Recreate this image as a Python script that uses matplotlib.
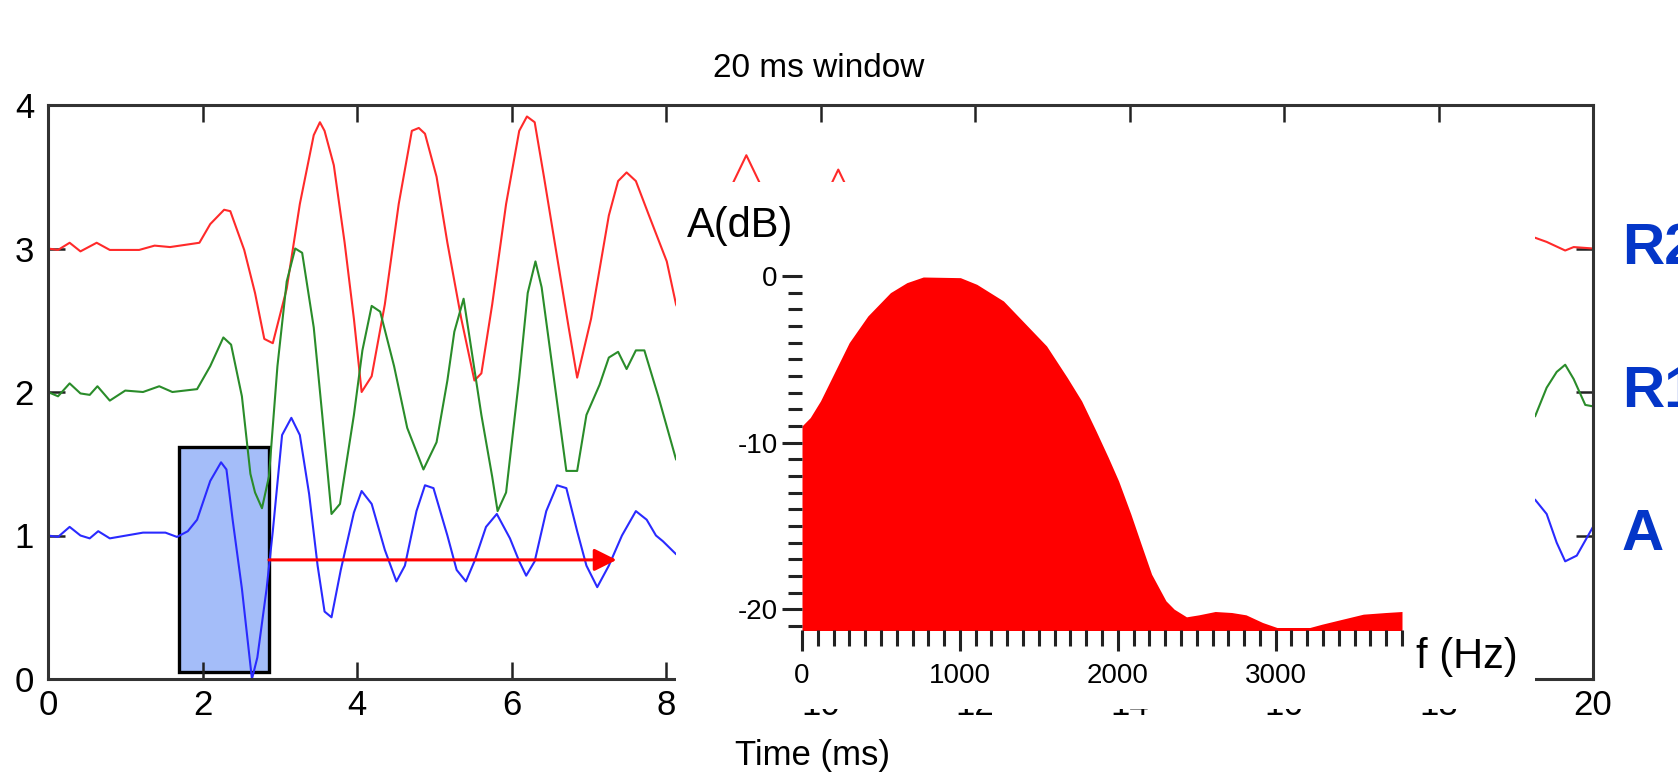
import matplotlib
matplotlib.use("Agg")
import matplotlib.pyplot as plt
from matplotlib.patches import Rectangle
from matplotlib.ticker import MultipleLocator

plt.rcParams['font.family'] = ['Liberation Sans', 'DejaVu Sans']
plt.rcParams['axes.unicode_minus'] = False

# time traces (ms, offset amplitude)
r2_points = [(0, 3.00), (0.13, 2.99), (0.28, 3.04), (0.42, 2.98), (0.63, 3.04), (0.80, 2.99),
             (1.18, 2.99), (1.38, 3.02), (1.58, 3.01), (1.96, 3.04), (2.10, 3.17), (2.28, 3.27),
             (2.36, 3.26), (2.54, 2.99), (2.68, 2.69), (2.80, 2.37), (2.91, 2.34), (3.09, 2.72),
             (3.26, 3.31), (3.44, 3.79), (3.52, 3.88), (3.58, 3.82), (3.70, 3.58), (3.84, 3.04),
             (3.96, 2.51), (4.06, 2.00), (4.19, 2.11), (4.36, 2.61), (4.54, 3.31), (4.71, 3.82),
             (4.80, 3.84), (4.88, 3.80), (5.03, 3.50), (5.17, 3.04), (5.35, 2.51), (5.52, 2.08),
             (5.61, 2.13), (5.75, 2.61), (5.93, 3.31), (6.10, 3.82), (6.20, 3.92), (6.30, 3.88),
             (6.42, 3.50), (6.56, 3.04), (6.74, 2.45), (6.85, 2.10), (7.03, 2.51), (7.26, 3.23),
             (7.38, 3.47), (7.49, 3.53), (7.61, 3.47), (7.78, 3.23), (8.01, 2.91), (8.13, 2.61),
             (8.40, 2.30), (8.70, 3.10), (8.87, 3.46), (9.04, 3.65), (9.21, 3.46), (9.40, 3.00),
             (9.65, 2.40), (9.95, 3.10), (10.15, 3.46), (10.23, 3.55), (10.31, 3.46), (10.60, 2.70),
             (11.3, 3.30), (12.0, 2.75), (12.8, 3.20), (13.6, 2.85), (14.5, 3.10), (15.5, 2.95),
             (16.5, 3.05), (17.5, 2.98), (18.5, 3.02), (19.25, 3.075), (19.40, 3.046),
             (19.64, 2.986), (19.75, 3.01), (20.0, 3.00)]

r1_points = [(0, 2.00), (0.13, 1.97), (0.28, 2.06), (0.42, 1.99), (0.54, 1.98), (0.64, 2.04),
             (0.80, 1.94), (1.00, 2.01), (1.23, 2.00), (1.44, 2.04), (1.61, 2.00), (1.93, 2.02),
             (2.10, 2.18), (2.27, 2.38), (2.37, 2.33), (2.51, 1.97), (2.62, 1.43), (2.68, 1.30),
             (2.77, 1.19), (2.86, 1.41), (2.97, 2.18), (3.09, 2.77), (3.20, 3.00), (3.29, 2.97),
             (3.44, 2.45), (3.55, 1.84), (3.67, 1.15), (3.78, 1.22), (3.96, 1.84), (4.07, 2.29),
             (4.19, 2.60), (4.30, 2.56), (4.48, 2.18), (4.65, 1.75), (4.86, 1.46), (5.03, 1.65),
             (5.17, 2.08), (5.26, 2.42), (5.38, 2.65), (5.46, 2.37), (5.61, 1.84), (5.75, 1.41),
             (5.82, 1.17), (5.93, 1.30), (6.10, 2.10), (6.21, 2.69), (6.31, 2.91), (6.39, 2.73),
             (6.56, 2.05), (6.71, 1.45), (6.85, 1.45), (6.97, 1.84), (7.14, 2.05), (7.26, 2.24),
             (7.38, 2.28), (7.49, 2.16), (7.61, 2.29), (7.72, 2.29), (7.90, 1.97), (8.13, 1.53),
             (8.5, 1.35), (9.0, 2.20), (9.6, 1.60), (10.3, 2.30), (11.0, 1.75), (12.0, 2.20),
             (13.0, 1.85), (14.5, 2.10), (16.0, 1.95), (17.5, 2.05), (18.6, 1.95),
             (19.25, 1.83), (19.40, 2.03), (19.53, 2.14), (19.64, 2.19), (19.75, 2.09),
             (19.90, 1.91), (20.0, 1.90)]

a_points = [(0, 1.00), (0.13, 0.99), (0.28, 1.06), (0.42, 1.00), (0.54, 0.98), (0.65, 1.03),
            (0.80, 0.98), (1.23, 1.02), (1.52, 1.02), (1.67, 0.99), (1.81, 1.03), (1.93, 1.11),
            (2.10, 1.38), (2.24, 1.51), (2.31, 1.46), (2.39, 1.11), (2.51, 0.63), (2.64, 0.00),
            (2.71, 0.15), (2.83, 0.63), (2.91, 1.03), (3.03, 1.70), (3.15, 1.82), (3.26, 1.70),
            (3.38, 1.29), (3.49, 0.79), (3.58, 0.47), (3.67, 0.43), (3.79, 0.76), (3.96, 1.16),
            (4.06, 1.31), (4.19, 1.22), (4.36, 0.90), (4.51, 0.68), (4.62, 0.79), (4.77, 1.17),
            (4.88, 1.35), (4.99, 1.33), (5.17, 1.00), (5.29, 0.76), (5.41, 0.68), (5.52, 0.82),
            (5.67, 1.06), (5.81, 1.15), (5.98, 0.98), (6.10, 0.82), (6.19, 0.72), (6.30, 0.82),
            (6.45, 1.17), (6.59, 1.35), (6.71, 1.33), (6.85, 1.03), (6.97, 0.79), (7.11, 0.64),
            (7.26, 0.79), (7.43, 1.00), (7.61, 1.17), (7.75, 1.11), (7.87, 1.00), (7.96, 0.96),
            (8.13, 0.87), (8.6, 0.75), (9.2, 1.20), (9.9, 0.80), (10.6, 1.15), (11.5, 0.85),
            (12.5, 1.10), (13.5, 0.92), (15.0, 1.05), (16.5, 0.97), (18.0, 1.03), (18.8, 1.10),
            (19.25, 1.25), (19.40, 1.15), (19.53, 0.95), (19.64, 0.82), (19.79, 0.86), (20.0, 1.06)]

trace_labels = ['R2', 'R1', 'A']
trace_offsets = [3, 2, 1]

# analysis window and its sliding direction
window_t = [1.70, 2.86]
window_v = [0.05, 1.62]
arrow_t = [2.86, 7.36]
arrow_v = 0.83

# spectrum of the window
freq_hz = [0, 52, 117, 195, 299, 417, 560, 664, 768, 1003, 1107, 1276, 1458, 1549, 1680, 1771,
           1862, 1940, 2005, 2083, 2148, 2214, 2305, 2357, 2435, 2513, 2617, 2721, 2812, 2917,
           3008, 3216, 3294, 3398, 3555, 3698, 3800]
level_db = [-9.0, -8.5, -7.5, -6.0, -4.0, -2.4, -1.0, -0.4, -0.06, -0.1, -0.5, -1.5, -3.3, -4.2,
            -6.1, -7.5, -9.3, -10.9, -12.3, -14.3, -16.1, -17.9, -19.5, -20.0, -20.46, -20.34,
            -20.14, -20.2, -20.34, -20.8, -21.1, -21.1, -20.9, -20.66, -20.3, -20.2, -20.14]

W, H = 1678, 777
fig = plt.figure(figsize=(W / 100, H / 100), dpi=100)

ax = fig.add_axes([48 / W, (H - 679) / H, (1593 - 48) / W, (679 - 105) / H])
ax.add_patch(Rectangle((window_t[0], window_v[0]), window_t[1] - window_t[0],
                       window_v[1] - window_v[0], facecolor='#a4bdf9', edgecolor='black',
                       linewidth=2.4, zorder=1))
for pts, col in zip([r2_points, r1_points, a_points], ['#ff2a2a', '#2a8c2a', '#2a2aff']):
    ax.plot([p[0] for p in pts], [p[1] for p in pts], color=col, lw=1.5, zorder=2)
ax.annotate('', xy=(arrow_t[1], arrow_v), xytext=(arrow_t[0], arrow_v),
            arrowprops=dict(arrowstyle='-|>', color='red', lw=2.2, mutation_scale=34,
                            shrinkA=0, shrinkB=0), zorder=3)
ax.set_xlim(0, 20)
ax.set_ylim(0, 4)
ax.set_xticks(range(0, 21, 2))
ax.set_yticks(range(0, 5))
ax.tick_params(direction='in', top=True, right=True, length=12, width=1.8,
               color='#222222', labelsize=25)
ax.tick_params(axis='x', pad=7)
ax.tick_params(axis='y', pad=10)
for s in ax.spines.values():
    s.set_linewidth(2.2)
    s.set_color('#333333')
for lab, off in zip(trace_labels, trace_offsets):
    ax.text(1.0188, off, lab, transform=ax.get_yaxis_transform(), fontsize=42,
            fontweight='bold', color='#0436c8', va='center', ha='left', clip_on=False)

# white panel pasted over the middle of the trace plot
fig.add_artist(Rectangle((676 / W, (H - 709) / H), (1535 - 676) / W, (709 - 182) / H,
                         transform=fig.transFigure, facecolor='white', edgecolor='none',
                         zorder=1))

axi = fig.add_axes([802 / W, (H - 630) / H, 600 / W, (630 - 276) / H])
axi.set_zorder(2)
axi.patch.set_facecolor('none')
axi.fill_between(freq_hz, level_db, -22, color='red', linewidth=0)
axi.set_xlim(0, 3800)
axi.set_ylim(-21.25, 0)
axi.set_xticks([0, 1000, 2000, 3000])
axi.xaxis.set_minor_locator(MultipleLocator(100))
axi.set_yticks([0, -10, -20])
axi.yaxis.set_minor_locator(MultipleLocator(1))
for s in axi.spines.values():
    s.set_visible(False)
axi.tick_params(which='both', direction='out', width=2.2, color='#222222', labelsize=20)
axi.tick_params(axis='y', which='major', length=14.5, pad=3)
axi.tick_params(axis='y', which='minor', length=10)
axi.tick_params(axis='x', which='major', length=15, pad=9)
axi.tick_params(axis='x', which='minor', length=11.5)

fig.text(0.488, (H - 77) / H, '20 ms window', ha='center', va='baseline', fontsize=24)
fig.text(0.4845, (H - 765) / H, 'Time (ms)', ha='center', va='baseline', fontsize=25)
fig.text(687 / W, (H - 237) / H, 'A(dB)', ha='left', va='baseline', fontsize=30)
fig.text(1416 / W, (H - 668) / H, 'f (Hz)', ha='left', va='baseline', fontsize=30)

fig.savefig('out.png', dpi=100)
